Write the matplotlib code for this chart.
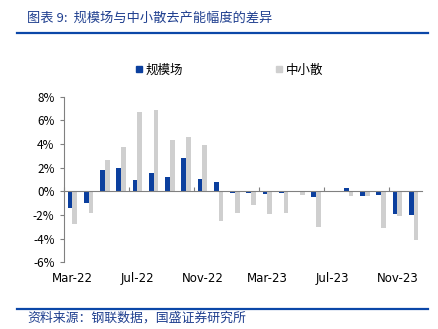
import matplotlib.pyplot as plt
import numpy as np
from matplotlib.lines import Line2D

plt.rcParams['font.family'] = ['Noto Sans CJK SC', 'DejaVu Sans']

months = ['Mar-22', 'Apr-22', 'May-22', 'Jun-22', 'Jul-22', 'Aug-22', 'Sep-22', 'Oct-22',
          'Nov-22', 'Dec-22', 'Jan-23', 'Feb-23', 'Mar-23', 'Apr-23', 'May-23', 'Jun-23',
          'Jul-23', 'Aug-23', 'Sep-23', 'Oct-23', 'Nov-23', 'Dec-23']
# 规模场 / 中小散 capacity reduction, %
large = [-1.4, -1.0, 1.8, 1.95, 1.0, 1.55, 1.2, 2.8, 1.07, 0.76, -0.14,
         -0.14, -0.23, -0.14, -0.03, -0.48, -0.03, 0.31, -0.4, -0.34, -1.92, -2.03]
small = [-2.8, -1.84, 2.68, 3.73, 6.67, 6.86, 4.32, 4.58, 3.9, -2.5, -1.81,
         -1.19, -1.89, -1.84, -0.28, -3.02, 0.0, -0.4, -0.4, -3.08, -2.06, -4.12]

BLUE = '#0B3F9E'
GRAY = '#CFCFCF'
TXT = '#1F3F8F'

fig = plt.figure(figsize=(4.38, 3.29), dpi=100)
ax = fig.add_axes([64.3 / 438, 1 - 262.3 / 329, (421.8 - 64.3) / 438, (262.3 - 96.7) / 329])

x = np.arange(len(months))
w = 0.29
ax.bar(x - w / 2, large, w, color=BLUE, label='规模场')
ax.bar(x + w / 2, small, w, color=GRAY, label='中小散')

ax.set_xlim(-0.5, len(months) - 0.5)
ax.set_ylim(-6, 8)
ax.set_yticks(np.arange(-6, 9, 2))
ax.set_yticklabels([f'{v}%' for v in range(-6, 9, 2)], fontsize=8.5)

for s in ['top', 'right']:
    ax.spines[s].set_visible(False)
ax.spines['bottom'].set_position(('data', 0))
ax.spines['bottom'].set_color('#808080')
ax.spines['left'].set_color('#808080')
ax.tick_params(axis='y', length=3, color='#808080', pad=4)

# category boundary ticks every 4 months, labels under the plot
ax.set_xticks(np.arange(-0.5, len(months), 4))
ax.set_xticklabels([])
ax.tick_params(axis='x', direction='in', length=3, color='#808080')
for i in range(0, len(months), 4):
    ax.text(i, -7.4, months[i], ha='center', va='center', fontsize=8.5,
            transform=ax.transData, family='DejaVu Sans')

h = [Line2D([], [], marker='s', ls='', color=BLUE, markersize=5),
     Line2D([], [], marker='s', ls='', color=GRAY, markersize=5)]
fig.legend(h, ['规模场', '中小散'], loc='center', bbox_to_anchor=(228.5 / 438, 1 - 70 / 329),
           ncol=2, frameon=False, fontsize=9, handletextpad=0.1, columnspacing=7.3,
           handlelength=0.8)

fig.text(27 / 438, 1 - 18 / 329, '图表 9:  规模场与中小散去产能幅度的差异', fontsize=9.5,
         color=TXT, style='italic', va='center', ha='left')
fig.text(27 / 438, 1 - 318 / 329, '资料来源：钢联数据，国盛证券研究所', fontsize=9.3,
         color=TXT, style='italic', va='center', ha='left')
for yy in [33, 309]:
    fig.add_artist(Line2D([17 / 438, 428 / 438], [1 - yy / 329] * 2, color='#0B47A8',
                          lw=1.6, transform=fig.transFigure))

fig.savefig('out.png', dpi=100)
